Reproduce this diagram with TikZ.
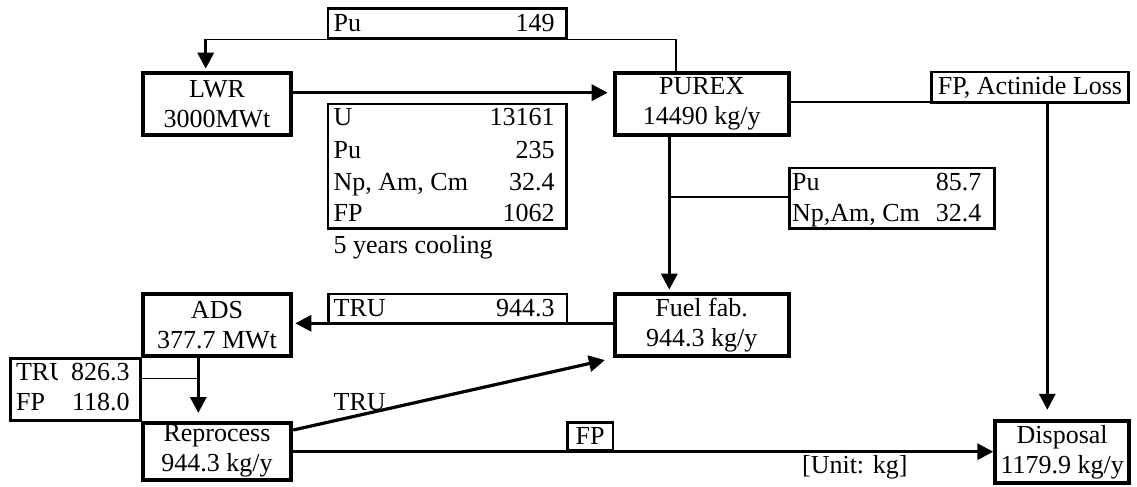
\documentclass[tikz,border=0pt]{standalone}
\usepackage{fontspec}
\setmainfont{Liberation Serif}
\usetikzlibrary{arrows.meta}
\begin{document}
\begin{tikzpicture}[x=0.5pt,y=-0.5pt,
  font=\fontsize{13}{15}\selectfont,
  mainbox/.style={draw, line width=2pt, fill=white, inner sep=0pt, align=center, minimum width=74.3pt, minimum height=31.3pt},
  labbox/.style={draw, line width=1.4pt, fill=white, inner sep=0pt},
  thinline/.style={line width=0.8pt},
  thk/.style={line width=1.6pt, -{Triangle[length=8pt,width=8pt]}},
  txt/.style={inner sep=0pt}
]
\useasboundingbox (0,0) rectangle (1137,487);

% main boxes
\node[mainbox] (lwr) at (217,104) {LWR\\3000MWt};
\node[mainbox, minimum width=87pt] (purex) at (701.7,104) {PUREX\\14490 kg/y};
\node[mainbox, minimum width=87pt] (fuelfab) at (701.7,325) {Fuel fab.\\944.3 kg/y};
\node[mainbox] (ads) at (217,325) {ADS\\377.7 MWt};
\node[mainbox, minimum height=28.5pt] (reprocess) at (217,451.2) {Reprocess\\944.3 kg/y};
\node[mainbox, minimum width=66.9pt, minimum height=30.8pt] (disposal) at (1062.2,452.2) {Disposal\\1179.9 kg/y};

% connectors
\coordinate (cA) at (676,39.3);
\coordinate (cB) at (205.7,39.3);
\draw[thinline] (purex.north -| cA) -- (cA) -- (cB);
\draw[thk, shorten >=1pt] (cB) -- (lwr.north -| cB);

\coordinate (yLW) at (0,92.7);
\draw[thk, shorten >=2.5pt] (lwr.east |- yLW) -- (purex.west |- yLW);

\coordinate (xP) at (669.3,0);
\draw[thk, shorten >=1pt] (purex.south -| xP) -- (fuelfab.north -| xP);

\coordinate (yT) at (0,323.3);
\draw[thk, shorten >=1pt] (fuelfab.west |- yT) -- (ads.east |- yT);

\coordinate (xA) at (198.3,0);
\draw[thk, shorten >=3.85pt] (ads.south -| xA) -- (reprocess.north -| xA);

\coordinate (yR) at (0,430);
\draw[thk, shorten >=4pt] (reprocess.east |- yR) -- (fuelfab.south west);
\coordinate (yB) at (0,451.7);
\draw[thk] (reprocess.east |- yB) -- (disposal.west |- yB);

% label boxes
\node[labbox, minimum width=119.3pt, minimum height=15pt] (puTop) at (447.3,23.7) {};
\node[labbox, minimum width=119.3pt, minimum height=62.3pt] (comp) at (447.3,166.3) {};
\node[labbox, minimum width=98.6pt, minimum height=15.25pt] (fploss) at (1030,87.3) {FP, Actinide Loss};
\node[labbox, minimum width=102.4pt, minimum height=30.25pt] (puNp) at (892.2,198.3) {};
\node[labbox, minimum width=119.4pt, minimum height=14.75pt] (truTop) at (447.5,308.8) {};
\node[labbox, minimum width=64.8pt, minimum height=30.8pt] (truFp) at (75.5,389.5) {};
\node[labbox, minimum width=22.75pt, minimum height=14.1pt] (fpBox) at (590.2,436.2) {FP};

% connectors to label boxes
\coordinate (yFP) at (0,101.7);
\draw[thinline] (purex.east |- yFP) -- (fploss.west |- yFP);
\coordinate (xD) at (1047.3,0);
\draw[thk, shorten >=4.8pt] (fploss.south -| xD) -- (disposal.north -| xD);
\coordinate (cJ) at (669.3,196.7);
\draw[thinline] (cJ) -- (puNp.west |- cJ);
\coordinate (cK) at (198.3,378.3);
\draw[thinline] (truFp.east |- cK) -- (cK);
\draw[line width=1.6pt] (fuelfab.west |- yT) -- (truTop.east |- yT);

% texts
\node[txt, anchor=base west] (t1) at (333.3,31.7) {Pu};
\node[txt, anchor=base east] (t2) at (555,31.7) {149};

\node[txt, anchor=base west] (c1) at (333.3,126) {U};
\node[txt, anchor=base west] (c2) at (333.3,158.3) {Pu};
\node[txt, anchor=base west] (c3) at (333.3,190) {Np, Am, Cm};
\node[txt, anchor=base west] (c4) at (333.3,221) {FP};
\node[txt, anchor=base east] (v1) at (555,126) {13161};
\node[txt, anchor=base east] (v2) at (555,158.3) {235};
\node[txt, anchor=base east] (v3) at (555,190) {32.4};
\node[txt, anchor=base east] (v4) at (555,221) {1062};
\node[txt, anchor=base west] (cool) at (333.3,253) {5 years cooling};

\node[txt, anchor=base west] (p1) at (791.7,190.7) {Pu};
\node[txt, anchor=base west] (p2) at (791.7,221.7) {Np,Am, Cm};
\node[txt, anchor=base east] (pv1) at (981.7,190.7) {85.7};
\node[txt, anchor=base east] (pv2) at (981.7,221.7) {32.4};

\node[txt, anchor=base west] (tt1) at (333.3,316.7) {TRU};
\node[txt, anchor=base east] (tt2) at (555,316.7) {944.3};

\begin{scope}
\clip (10,350) rectangle (57,395);
\node[txt, anchor=base west] (tf1) at (15.7,380) {TRU};
\end{scope}
\node[txt, anchor=base west] (tf2) at (15.7,410) {FP};
\node[txt, anchor=base east] (tf3) at (130,380) {826.3};
\node[txt, anchor=base east] (tf4) at (130,410) {118.0};

\node[txt, anchor=base west] (trulab) at (333.3,410) {TRU};
\node[txt, anchor=base west] (unit) at (801.7,473) {[Unit: kg]};
\end{tikzpicture}
\end{document}
